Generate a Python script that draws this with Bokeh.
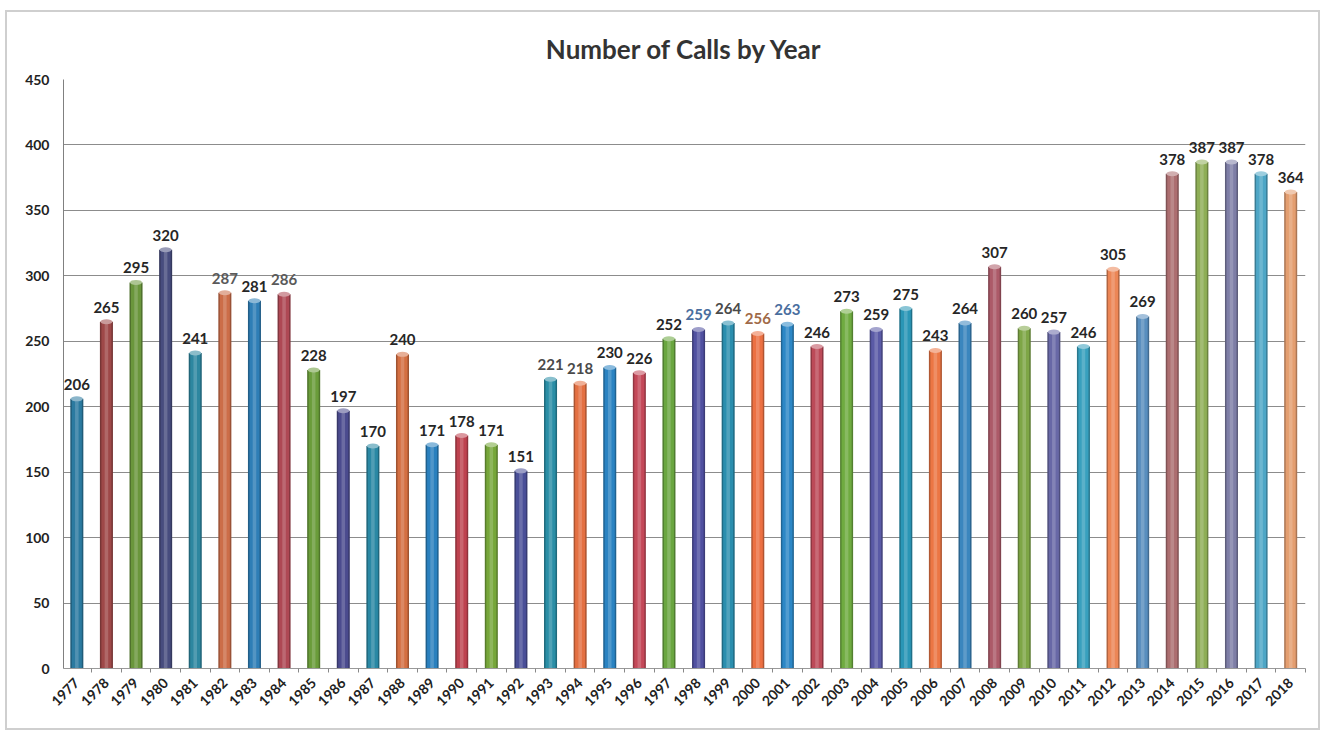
from bokeh.plotting import figure
from bokeh.models import FixedTicker, Range1d, ColumnDataSource
from bokeh.core.properties import value
from bokeh.embed import file_html
from bokeh.resources import INLINE
from math import pi

# Calls received per year
years = [1977, 1978, 1979, 1980, 1981, 1982, 1983, 1984, 1985, 1986, 1987, 1988,
         1989, 1990, 1991, 1992, 1993, 1994, 1995, 1996, 1997, 1998, 1999, 2000,
         2001, 2002, 2003, 2004, 2005, 2006, 2007, 2008, 2009, 2010, 2011, 2012,
         2013, 2014, 2015, 2016, 2017, 2018]
calls = [206, 265, 295, 320, 241, 287, 281, 286, 228, 197, 170, 240,
         171, 178, 171, 151, 221, 218, 230, 226, 252, 259, 264, 256,
         263, 246, 273, 259, 275, 243, 264, 307, 260, 257, 246, 305,
         269, 378, 387, 387, 378, 364]
y_ticks = [0, 50, 100, 150, 200, 250, 300, 350, 400, 450]

# Point colours (varied by point, cycling through the palette)
bar_colors = ["#2b7aa0", "#9e4848", "#6a963c", "#474c7e", "#2d87a0", "#cc6d48",
              "#2e7eb6", "#ae4854", "#6a9c3a", "#4b4b8e", "#2a88a4", "#d46f42",
              "#2a80be", "#be424f", "#76a63a", "#4a4f98", "#2a8ea6", "#e47042",
              "#2a83c2", "#c44858", "#6aa640", "#5050a0", "#2a8eae", "#ec7042",
              "#2c87c6", "#bc4a58", "#6fab40", "#5a5aa6", "#2a96b6", "#ec7644",
              "#3a86be", "#ac5a68", "#7ea646", "#6868a6", "#38a0be", "#ec8656",
              "#588ebe", "#ac6e70", "#8eae56", "#7e7ea6", "#4ea6c6", "#e49e70"]
label_colors = ["#262626"] * len(years)
label_colors[years.index(1982)] = "#5a5a5a"
label_colors[years.index(1984)] = "#5a5a5a"
label_colors[years.index(1993)] = "#4a4a4a"
label_colors[years.index(1994)] = "#4a4a4a"
label_colors[years.index(1998)] = "#4a6e9e"
label_colors[years.index(1999)] = "#4a4a4a"
label_colors[years.index(2000)] = "#a06a48"
label_colors[years.index(2001)] = "#4a6e9e"


def lighten(hex_color, amt):
    h = hex_color.lstrip("#")
    r, g, b = (int(h[i:i + 2], 16) for i in (0, 2, 4))
    r = int(r + (255 - r) * amt)
    g = int(g + (255 - g) * amt)
    b = int(b + (255 - b) * amt)
    return "#%02x%02x%02x" % (r, g, b)


def darken(hex_color, amt):
    h = hex_color.lstrip("#")
    r, g, b = (int(h[i:i + 2], 16) for i in (0, 2, 4))
    return "#%02x%02x%02x" % (int(r * (1 - amt)), int(g * (1 - amt)), int(b * (1 - amt)))


src = ColumnDataSource(dict(
    x=years,
    top=calls,
    color=bar_colors,
    edge=[darken(c, 0.25) for c in bar_colors],
    shine=[lighten(c, 0.18) for c in bar_colors],
    cap=[lighten(c, 0.45) for c in bar_colors],
    label=[str(v) for v in calls],
    label_color=label_colors,
))

FONT = "Lato"

p = figure(frame_width=1242, frame_height=589, output_backend="svg", toolbar_location=None,
           x_range=Range1d(years[0] - 0.45, years[-1] + 0.5),
           y_range=Range1d(0, 450),
           min_border_left=56, min_border_right=13, min_border_top=67, min_border_bottom=60)
p.styles = {"margin-left": "5px", "margin-top": "10px", "border": "2px solid #cfcfcf"}

p.title.text = "Number of Calls by Year"
p.title.align = "center"
p.title.text_font = FONT
p.title.text_font_size = "26px"
p.title.text_font_style = "bold"
p.title.text_color = "#333333"
p.title.offset = 0
p.title.standoff = 30

p.outline_line_color = None
p.background_fill_color = "white"
p.border_fill_color = "white"

# cylinder-like bars: edge shadow, body, central highlight and top cap
p.vbar(x="x", top="top", width=0.44, bottom=0, source=src,
       fill_color="edge", line_color=None)
p.vbar(x="x", top="top", width=0.34, bottom=0, source=src,
       fill_color="color", line_color=None)
p.vbar(x="x", top="top", width=0.12, bottom=0, source=src,
       fill_color="shine", line_color=None)
p.ellipse(x="x", y="top", width=0.40, height=5, height_units="screen", source=src,
          fill_color="cap", line_color=None)

p.text(x="x", y="top", text="label", source=src, text_color="label_color",
       text_font=value(FONT), text_font_size="15px", text_font_style="bold",
       text_align="center", text_baseline="bottom", y_offset=-9)

# axes
p.xaxis.ticker = FixedTicker(ticks=years, minor_ticks=[y + 0.5 for y in [years[0] - 1] + years])
p.xaxis.major_label_orientation = pi / 4
p.xaxis.major_label_text_font = FONT
p.xaxis.major_label_text_font_size = "14px"
p.xaxis.major_label_text_font_style = "bold"
p.xaxis.major_label_text_color = "#222222"
p.xaxis.major_tick_line_color = None
p.xaxis.minor_tick_line_color = "#888888"
p.xaxis.minor_tick_in = 0
p.xaxis.minor_tick_out = 4
p.xaxis.axis_line_color = "#999999"
p.xaxis.major_label_standoff = 6

p.yaxis.ticker = FixedTicker(ticks=y_ticks)
p.yaxis.major_label_text_font = FONT
p.yaxis.major_label_text_font_size = "14px"
p.yaxis.major_label_text_font_style = "bold"
p.yaxis.major_label_text_color = "#222222"
p.yaxis.major_tick_line_color = None
p.yaxis.minor_tick_line_color = None
p.yaxis.axis_line_color = "#808080"
p.yaxis.major_label_standoff = 8

p.xgrid.grid_line_color = None
p.ygrid.grid_line_color = "#8c8c8c"
p.ygrid.grid_line_width = 1

open("out.html", "w").write(file_html(p, INLINE))
